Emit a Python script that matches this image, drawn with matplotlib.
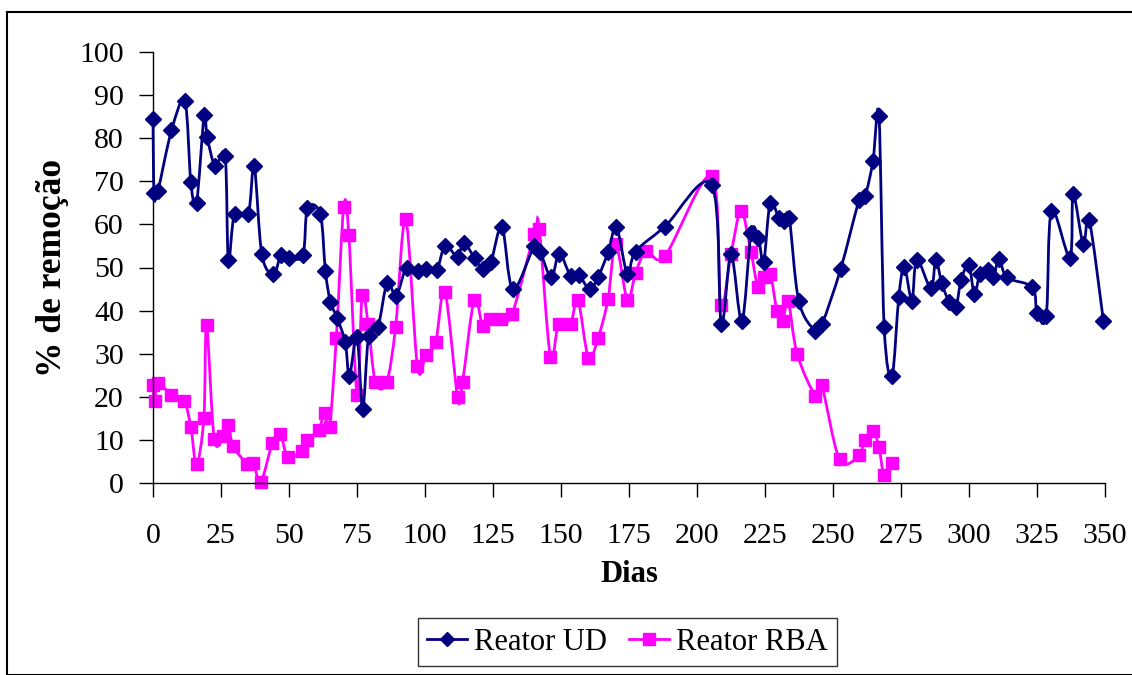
import matplotlib
matplotlib.use("Agg")
import matplotlib.pyplot as plt
import numpy as np
from matplotlib.patches import Rectangle, PathPatch
from matplotlib.path import Path
from matplotlib.lines import Line2D

ud_days = [0, 0.4, 1.8, 6.8, 11.7, 13.9, 16.0, 18.8, 19.9, 22.9, 26.5, 27.7, 30.0, 35.0,
           37.2, 40.0, 44.3, 47.1, 50.1, 55.1, 56.8, 61.5, 63.4, 65.2, 67.7, 70.7, 72.2,
           75.0, 77.1, 79.3, 82.7, 86.1, 89.4, 93.2, 97.4, 100.5, 104.3, 107.4, 112.0,
           114.2, 118.3, 121.2, 124.2, 128.3, 132.3, 140.2, 142.4, 146.4, 149.4, 153.5,
           156.6, 160.5, 163.6, 167.3, 170.4, 174.4, 177.4, 188.2, 205.4, 208.9, 212.5,
           216.5, 219.9, 222.6, 224.5, 226.9, 230.0, 231.9, 233.9, 237.4, 243.5, 246.0,
           252.8, 259.6, 261.8, 264.7, 266.9, 268.8, 271.7, 274.2, 276.2, 279.0, 280.8,
           286.0, 287.8, 290.0, 292.8, 295.2, 297.1, 299.9, 302.0, 304.0, 306.9, 308.7,
           311.2, 313.9, 323.3, 325.0, 328.4, 330.3, 337.1, 338.3, 342.0, 344.2, 349.4]
ud_vals = [84.4, 67.4, 67.8, 81.8, 88.6, 69.9, 64.9, 85.3, 80.3, 73.5, 75.9, 51.8, 62.4, 62.4,
           73.5, 53.1, 48.5, 52.9, 52.3, 52.9, 63.7, 62.4, 49.1, 42.1, 38.3, 32.6, 24.9,
           33.8, 17.2, 34.2, 36.1, 46.5, 43.4, 50.0, 49.1, 49.6, 49.4, 55.0, 52.5,
           55.8, 52.1, 49.6, 51.2, 59.4, 45.0, 55.0, 53.6, 47.7, 53.2, 48.1,
           48.2, 45.0, 47.7, 53.5, 59.3, 48.5, 53.7, 59.5, 69.2, 37.0, 53.1,
           37.5, 58.1, 56.9, 51.2, 65.0, 61.6, 60.8, 61.6, 42.3, 35.3, 36.9,
           49.6, 65.6, 66.6, 74.7, 85.1, 36.3, 24.9, 43.2, 50.2, 42.3, 51.8,
           45.2, 51.8, 46.3, 41.9, 40.9, 47.1, 50.6, 43.8, 48.5, 49.4, 47.7,
           51.9, 47.7, 45.4, 39.4, 38.8, 63.1, 52.3, 67.0, 55.4, 61.0, 37.7]

rba_days = [0, 0.6, 1.8, 6.8, 11.4, 13.9, 16.0, 18.7, 19.7, 22.5, 25.8, 27.7, 29.5, 34.7,
            36.9, 39.6, 43.9, 46.8, 49.6, 54.8, 56.8, 60.9, 63.1, 64.9, 67.4, 70.1, 72.0,
            75.0, 76.9, 79.1, 81.8, 85.9, 89.2, 92.9, 97.2, 100.3, 103.9, 107.3, 112.0,
            113.8, 118.1, 121.2, 124.0, 127.9, 132.0, 140.2, 142.0, 146.1, 149.1, 153.5,
            156.2, 160.1, 163.6, 167.3, 170.1, 174.4, 177.4, 181.4, 188.2, 205.4, 208.7,
            212.5, 216.2, 219.8, 222.4, 224.5, 226.9, 229.4, 231.5, 233.5, 236.8, 243.5,
            245.8, 252.4, 259.6, 261.6, 264.8, 266.9, 268.8, 271.6]
rba_vals = [22.8, 19.1, 23.1, 20.5, 19.1, 13.0, 4.3, 15.1, 36.7, 10.3, 11.0, 13.4, 8.5, 4.5,
            4.7, 0.2, 9.3, 11.3, 6.0, 7.4, 9.9, 12.4, 16.2, 13.1, 33.7, 64.0, 57.5,
            20.5, 43.6, 36.9, 23.4, 23.4, 36.3, 61.2, 27.2, 29.6, 32.6, 44.4, 19.9,
            23.4, 42.5, 36.5, 38.1, 38.1, 39.2, 57.7, 58.9, 29.3, 36.9, 37.0,
            42.5, 29.0, 33.6, 42.7, 55.4, 42.5, 48.7, 53.9, 52.7, 71.2, 41.3,
            53.2, 63.1, 53.7, 45.5, 47.8, 48.6, 40.0, 37.5, 42.3, 30.0, 20.3,
            22.8, 5.5, 6.4, 10.0, 12.0, 8.3, 1.9, 4.6]

x_ticks = list(range(0, 351, 25))
y_ticks = list(range(0, 101, 10))
series_names = ["Reator UD", "Reator RBA"]

plt.rcParams['font.family'] = ['Liberation Serif', 'DejaVu Serif']

UD_COLOR = '#000080'
RBA_COLOR = '#FF00FF'


def smooth_path(x, y):
    """Excel-like smoothed line: cubic Bezier segments through the data points."""
    p = np.column_stack([x, y]).astype(float)
    n = len(p)
    verts = [p[0]]
    codes = [Path.MOVETO]
    for i in range(n - 1):
        p0 = p[i - 1] if i > 0 else p[i]
        p1 = p[i]
        p2 = p[i + 1]
        p3 = p[i + 2] if i + 2 < n else p[i + 1]
        c1 = p1 + (p2 - p0) / 6.0
        c2 = p2 - (p3 - p1) / 6.0
        verts += [c1, c2, p2]
        codes += [Path.CURVE4] * 3
    return Path(verts, codes)


W, H = 1132, 675
fig = plt.figure(figsize=(W / 100, H / 100), dpi=100)
ax = fig.add_axes([153 / W, 1 - 483 / H, (1105 - 153) / W, (483 - 52) / H])

ax.add_patch(PathPatch(smooth_path(rba_days, rba_vals), facecolor='none',
                       edgecolor=RBA_COLOR, lw=2, clip_on=False, zorder=2))
ax.plot(rba_days, rba_vals, ls='none', marker='s', ms=9, color=RBA_COLOR,
        clip_on=False, zorder=2.5)
ax.add_patch(PathPatch(smooth_path(ud_days, ud_vals), facecolor='none',
                       edgecolor=UD_COLOR, lw=2, clip_on=False, zorder=3))
ax.plot(ud_days, ud_vals, ls='none', marker='D', ms=8, color=UD_COLOR,
        clip_on=False, zorder=3.5)

ax.set_xlim(0, 350)
ax.set_ylim(0, 100)
ax.set_xticks(x_ticks)
ax.set_yticks(y_ticks)
for s in ['top', 'right']:
    ax.spines[s].set_visible(False)
for s in ['left', 'bottom']:
    ax.spines[s].set_color('#000000')
    ax.spines[s].set_linewidth(1)
ax.tick_params(axis='both', direction='out', length=10, width=1, labelsize=21.5)
ax.tick_params(axis='x', pad=19)
ax.tick_params(axis='y', pad=11)

ax.set_xlabel('Dias', fontsize=22, fontweight='bold', labelpad=8)
ax.set_ylabel('% de remoção', fontsize=25.5, fontweight='bold', labelpad=7)

handles = [Line2D([], [], color=UD_COLOR, lw=2, marker='D', ms=7),
           Line2D([], [], color=RBA_COLOR, lw=2, marker='s', ms=8)]
leg = fig.legend(handles, series_names, loc='center',
                 bbox_to_anchor=((413 + 842) / 2 / W, 1 - 642 / H),
                 ncol=2, fontsize=22, frameon=True, fancybox=False,
                 edgecolor='#000000', handlelength=1.3, columnspacing=0.7,
                 handletextpad=0.25, borderpad=0.3, borderaxespad=0)
leg.get_frame().set_linewidth(1)

fig.patches.append(Rectangle((7 / W, 0), 2, 1 - 12 / H, transform=fig.transFigure,
                             fill=False, edgecolor='#000000', lw=1.5))

fig.savefig('out.png', dpi=100)
